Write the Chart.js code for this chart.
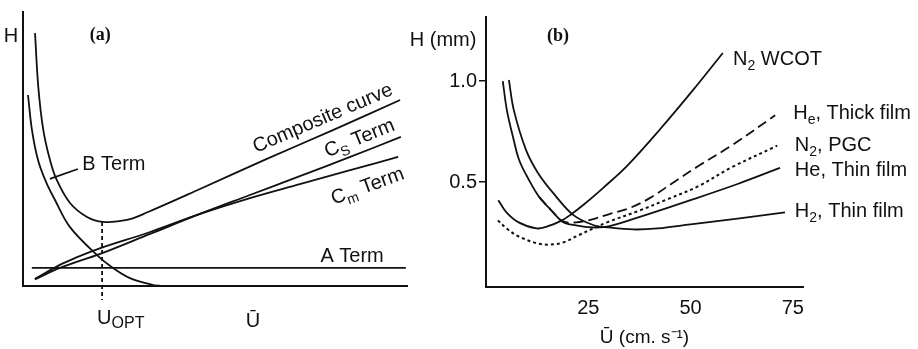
<!DOCTYPE html>
<html lang="en">
<head>
  <meta charset="UTF-8">
  <title>Van Deemter curves</title>
  <script src="https://cdn.jsdelivr.net/npm/chart.js"></script>
  <style>
    html, body {
      margin: 0;
      padding: 0;
      background: #fff;
    }
    body {
      width: 918px;
      height: 349px;
      position: relative;
      overflow: hidden;
    }
    .panel {
      position: absolute;
      top: 0;
    }
    #panelA { left: 0; }
    #panelB { left: 400px; }
  </style>
</head>
<body>
  <div class="panel" id="panelA"><canvas id="chartA" width="440" height="349"></canvas></div>
  <div class="panel" id="panelB"><canvas id="chartB" width="518" height="349"></canvas></div>

  <script>
    // (a) schematic terms, arbitrary units 0-100
    const compositeCurve = [[3.13,92.3],[3.98,72.7],[5.29,56.9],[7.03,46.0],[8.78,38.7],[12.24,30.3],[16.67,25.2],[20.83,23.4],[27.08,24.1],[32.55,27.0],[46.1,35.4],[63.5,46.4],[80.7,56.9],[98.2,67.9]];
    const bTerm = [[1.3,69.7],[2.34,56.9],[3.91,46.0],[5.99,38.0],[8.33,31.4],[12.24,21.5],[19.27,11.3],[23.44,6.6],[27.86,2.9],[33.85,0.36],[35.7,0.1]];
    const csTerm = [[3.1,2.4],[9.6,6.6],[20.1,11.7],[33.1,19.0],[46.1,26.3],[59.1,33.2],[72.1,40.1],[85.2,47.1],[98.4,54.4]];
    const cmTerm = [[3.1,2.6],[9.6,7.7],[13.5,10.2],[19.3,13.4],[33.1,19.7],[46.1,26.3],[59.1,32.1],[72.1,37.2],[85.2,42.3],[97.7,47.1]];
    const aTerm = [[2.3,6.6],[99.7,6.6]];
    const uOptLine = [[20.6,23.4],[20.6,-5.1]];

    // (b) H (mm) against U (cm/s)
    const n2Wcot = [[3,0.41],[5,0.35],[8,0.30],[12.3,0.27],[15,0.28],[18.6,0.31],[20.6,0.337],[24,0.39],[28.6,0.47],[34.5,0.58],[42.5,0.76],[50.6,0.955],[57.9,1.139]];
    const heThick = [[13.0,0.426],[15.9,0.361],[18.8,0.305],[22,0.30],[26,0.315],[30,0.34],[35,0.37],[40,0.42],[46,0.50],[52,0.58],[60,0.68],[70.7,0.83]];
    const n2Pgc = [[2.9,0.31],[5,0.27],[8,0.23],[12.8,0.195],[15.5,0.19],[18.8,0.20],[22.5,0.235],[26.2,0.27],[29.6,0.30],[37.7,0.36],[43.8,0.41],[52,0.48],[59.8,0.57],[71.2,0.68]];
    const heThin = [[4.1,1.0],[5.1,0.856],[6.6,0.723],[8.1,0.609],[10.5,0.51],[13.0,0.426],[15.9,0.361],[18.8,0.302],[22,0.285],[26,0.275],[30,0.28],[38,0.33],[50,0.41],[61.5,0.49],[71.9,0.57]];
    const h2Thin = [[5.6,1.005],[6.8,0.856],[9.8,0.658],[12.7,0.545],[16.4,0.446],[21.3,0.337],[26.2,0.287],[30,0.275],[36,0.265],[42,0.27],[50,0.29],[62,0.32],[73.1,0.35]];
    const xTicksB = [25, 50, 75];
    const yTicksB = [0.5, 1.0];

    const SANS = '"Liberation Sans", Arial, sans-serif';
    const pts = arr => arr.map(p => ({ x: p[0], y: p[1] }));

    function line(data, extra) {
      return Object.assign({
        data: pts(data),
        borderColor: '#111',
        borderWidth: 1.8,
        pointRadius: 0,
        fill: false,
        tension: 0.35
      }, extra || {});
    }

    // text with subscripts; parts = [[text], [text, 'sub'], ...]
    function drawRich(ctx, item, px, py) {
      const size = item.size || 20;
      const subSize = Math.round(size * (item.subScale || 0.72));
      const fam = item.family || SANS;
      const weight = item.bold ? 'bold ' : '';
      const fontFor = p => weight + (p[1] ? subSize : size) + 'px ' + fam;
      let w = 0;
      item.parts.forEach(p => { ctx.font = fontFor(p); w += ctx.measureText(p[0]).width; });
      ctx.save();
      ctx.translate(px, py);
      if (item.rot) ctx.rotate(item.rot * Math.PI / 180);
      ctx.textBaseline = 'alphabetic';
      ctx.textAlign = 'left';
      let cx = item.align === 'left' ? 0 : -w / 2;
      const base = size * 0.36;
      item.parts.forEach(p => {
        ctx.font = fontFor(p);
        const dy = p[1] === 'sub' ? base + size * (item.subDrop || 0.25) : base;
        ctx.fillText(p[0], cx, dy);
        cx += ctx.measureText(p[0]).width;
      });
      ctx.restore();
    }

    function notes(items, leaders) {
      return {
        id: 'notes',
        afterDatasetsDraw(chart) {
          const { ctx, scales: { x, y } } = chart;
          ctx.save();
          ctx.fillStyle = '#111';
          ctx.strokeStyle = '#111';
          ctx.lineWidth = 1.8;
          (leaders || []).forEach(l => {
            ctx.beginPath();
            ctx.moveTo(x.getPixelForValue(l[0]), y.getPixelForValue(l[1]));
            ctx.lineTo(x.getPixelForValue(l[2]), y.getPixelForValue(l[3]));
            ctx.stroke();
          });
          items.forEach(it => drawRich(ctx, it, x.getPixelForValue(it.x), y.getPixelForValue(it.y)));
          ctx.restore();
        }
      };
    }

    const notesA = [
      { parts: [['H']], x: -3.1, y: 91.6 },
      { parts: [['(a)']], x: 20.1, y: 92.3, size: 18, bold: true, family: '"Liberation Serif", "Times New Roman", serif' },
      { parts: [['B Term']], x: 15.4, y: 44.9, align: 'left' },
      { parts: [['Composite curve']], x: 77.9, y: 61.7, rot: -23 },
      { parts: [['C'], ['S', 'sub'], [' Term']], x: 87.5, y: 54.4, rot: -22 },
      { parts: [['C'], ['m', 'sub'], [' Term']], x: 89.6, y: 36.9, rot: -20 },
      { parts: [['A Term']], x: 85.7, y: 11.3 },
      { parts: [['U'], ['OPT', 'sub']], x: 19.3, y: -11.3, align: 'left', size: 20, subScale: 0.82, subDrop: 0.2 },
      { parts: [['Ū']], x: 59.9, y: -12.4, size: 20 }
    ];
    const leadersA = [[14.3, 42.7, 7.0, 39.1]];

    const notesB = [
      { parts: [['H (mm)']], x: -10.5, y: 1.21 },
      { parts: [['(b)']], x: 17.6, y: 1.23, size: 18, bold: true, family: '"Liberation Serif", "Times New Roman", serif' },
      { parts: [['N'], ['2', 'sub'], [' WCOT']], x: 60.4, y: 1.114, align: 'left' },
      { parts: [['H'], ['e', 'sub'], [', Thick film']], x: 75.1, y: 0.847, align: 'left' },
      { parts: [['N'], ['2', 'sub'], [', PGC']], x: 75.5, y: 0.69, align: 'left' },
      { parts: [['He, Thin film']], x: 75.5, y: 0.564, align: 'left' },
      { parts: [['H'], ['2', 'sub'], [', Thin film']], x: 75.5, y: 0.361, align: 'left' }
    ];

    const axisBorder = { display: true, color: '#111', width: 2 };

    new Chart(document.getElementById('chartA').getContext('2d'), {
      type: 'line',
      data: {
        datasets: [
          line(compositeCurve),
          line(bTerm),
          line(csTerm),
          line(cmTerm),
          line(aTerm, { tension: 0 }),
          line(uOptLine, { borderDash: [4, 3], clip: false, tension: 0 })
        ]
      },
      options: {
        responsive: false,
        animation: false,
        layout: { padding: { left: 0, right: 33, top: 12, bottom: 0 } },
        plugins: { legend: { display: false }, tooltip: { enabled: false } },
        scales: {
          x: {
            type: 'linear', min: 0, max: 100,
            grid: { display: false },
            border: axisBorder,
            ticks: { display: false },
            afterFit: s => { s.height = 63; }
          },
          y: {
            type: 'linear', min: 0, max: 100,
            grid: { display: false },
            border: axisBorder,
            ticks: { display: false },
            afterFit: s => { s.width = 23; }
          }
        }
      },
      plugins: [notes(notesA, leadersA)]
    });

    new Chart(document.getElementById('chartB').getContext('2d'), {
      type: 'line',
      data: {
        datasets: [
          line(n2Wcot),
          line(heThick, { borderDash: [10, 5] }),
          line(n2Pgc, { borderDash: [3, 3], borderWidth: 2 }),
          line(heThin),
          line(h2Thin)
        ]
      },
      options: {
        responsive: false,
        animation: false,
        layout: { padding: { left: 0, right: 115, top: 17, bottom: 0 } },
        plugins: { legend: { display: false }, tooltip: { enabled: false } },
        scales: {
          x: {
            type: 'linear', min: 0, max: 77.5,
            grid: { display: false },
            border: axisBorder,
            afterBuildTicks: s => { s.ticks = xTicksB.map(v => ({ value: v })); },
            ticks: { color: '#111', padding: 1, font: { family: SANS, size: 20 } },
            title: {
              display: true,
              text: 'Ū (cm. s⁻¹)',
              color: '#111',
              padding: { top: 0, bottom: 0 },
              font: { family: SANS, size: 19 }
            },
            afterFit: s => { s.height = 62; }
          },
          y: {
            type: 'linear', min: -0.02, max: 1.317,
            grid: { display: true, drawOnChartArea: false, drawTicks: true, tickLength: 7, color: '#111', lineWidth: 1.5 },
            border: axisBorder,
            afterBuildTicks: s => { s.ticks = yTicksB.map(v => ({ value: v })); },
            ticks: { color: '#111', padding: 2, font: { family: SANS, size: 20 }, callback: v => v.toFixed(1) },
            afterFit: s => { s.width = 86; }
          }
        }
      },
      plugins: [notes(notesB)]
    });
  </script>
</body>
</html>
